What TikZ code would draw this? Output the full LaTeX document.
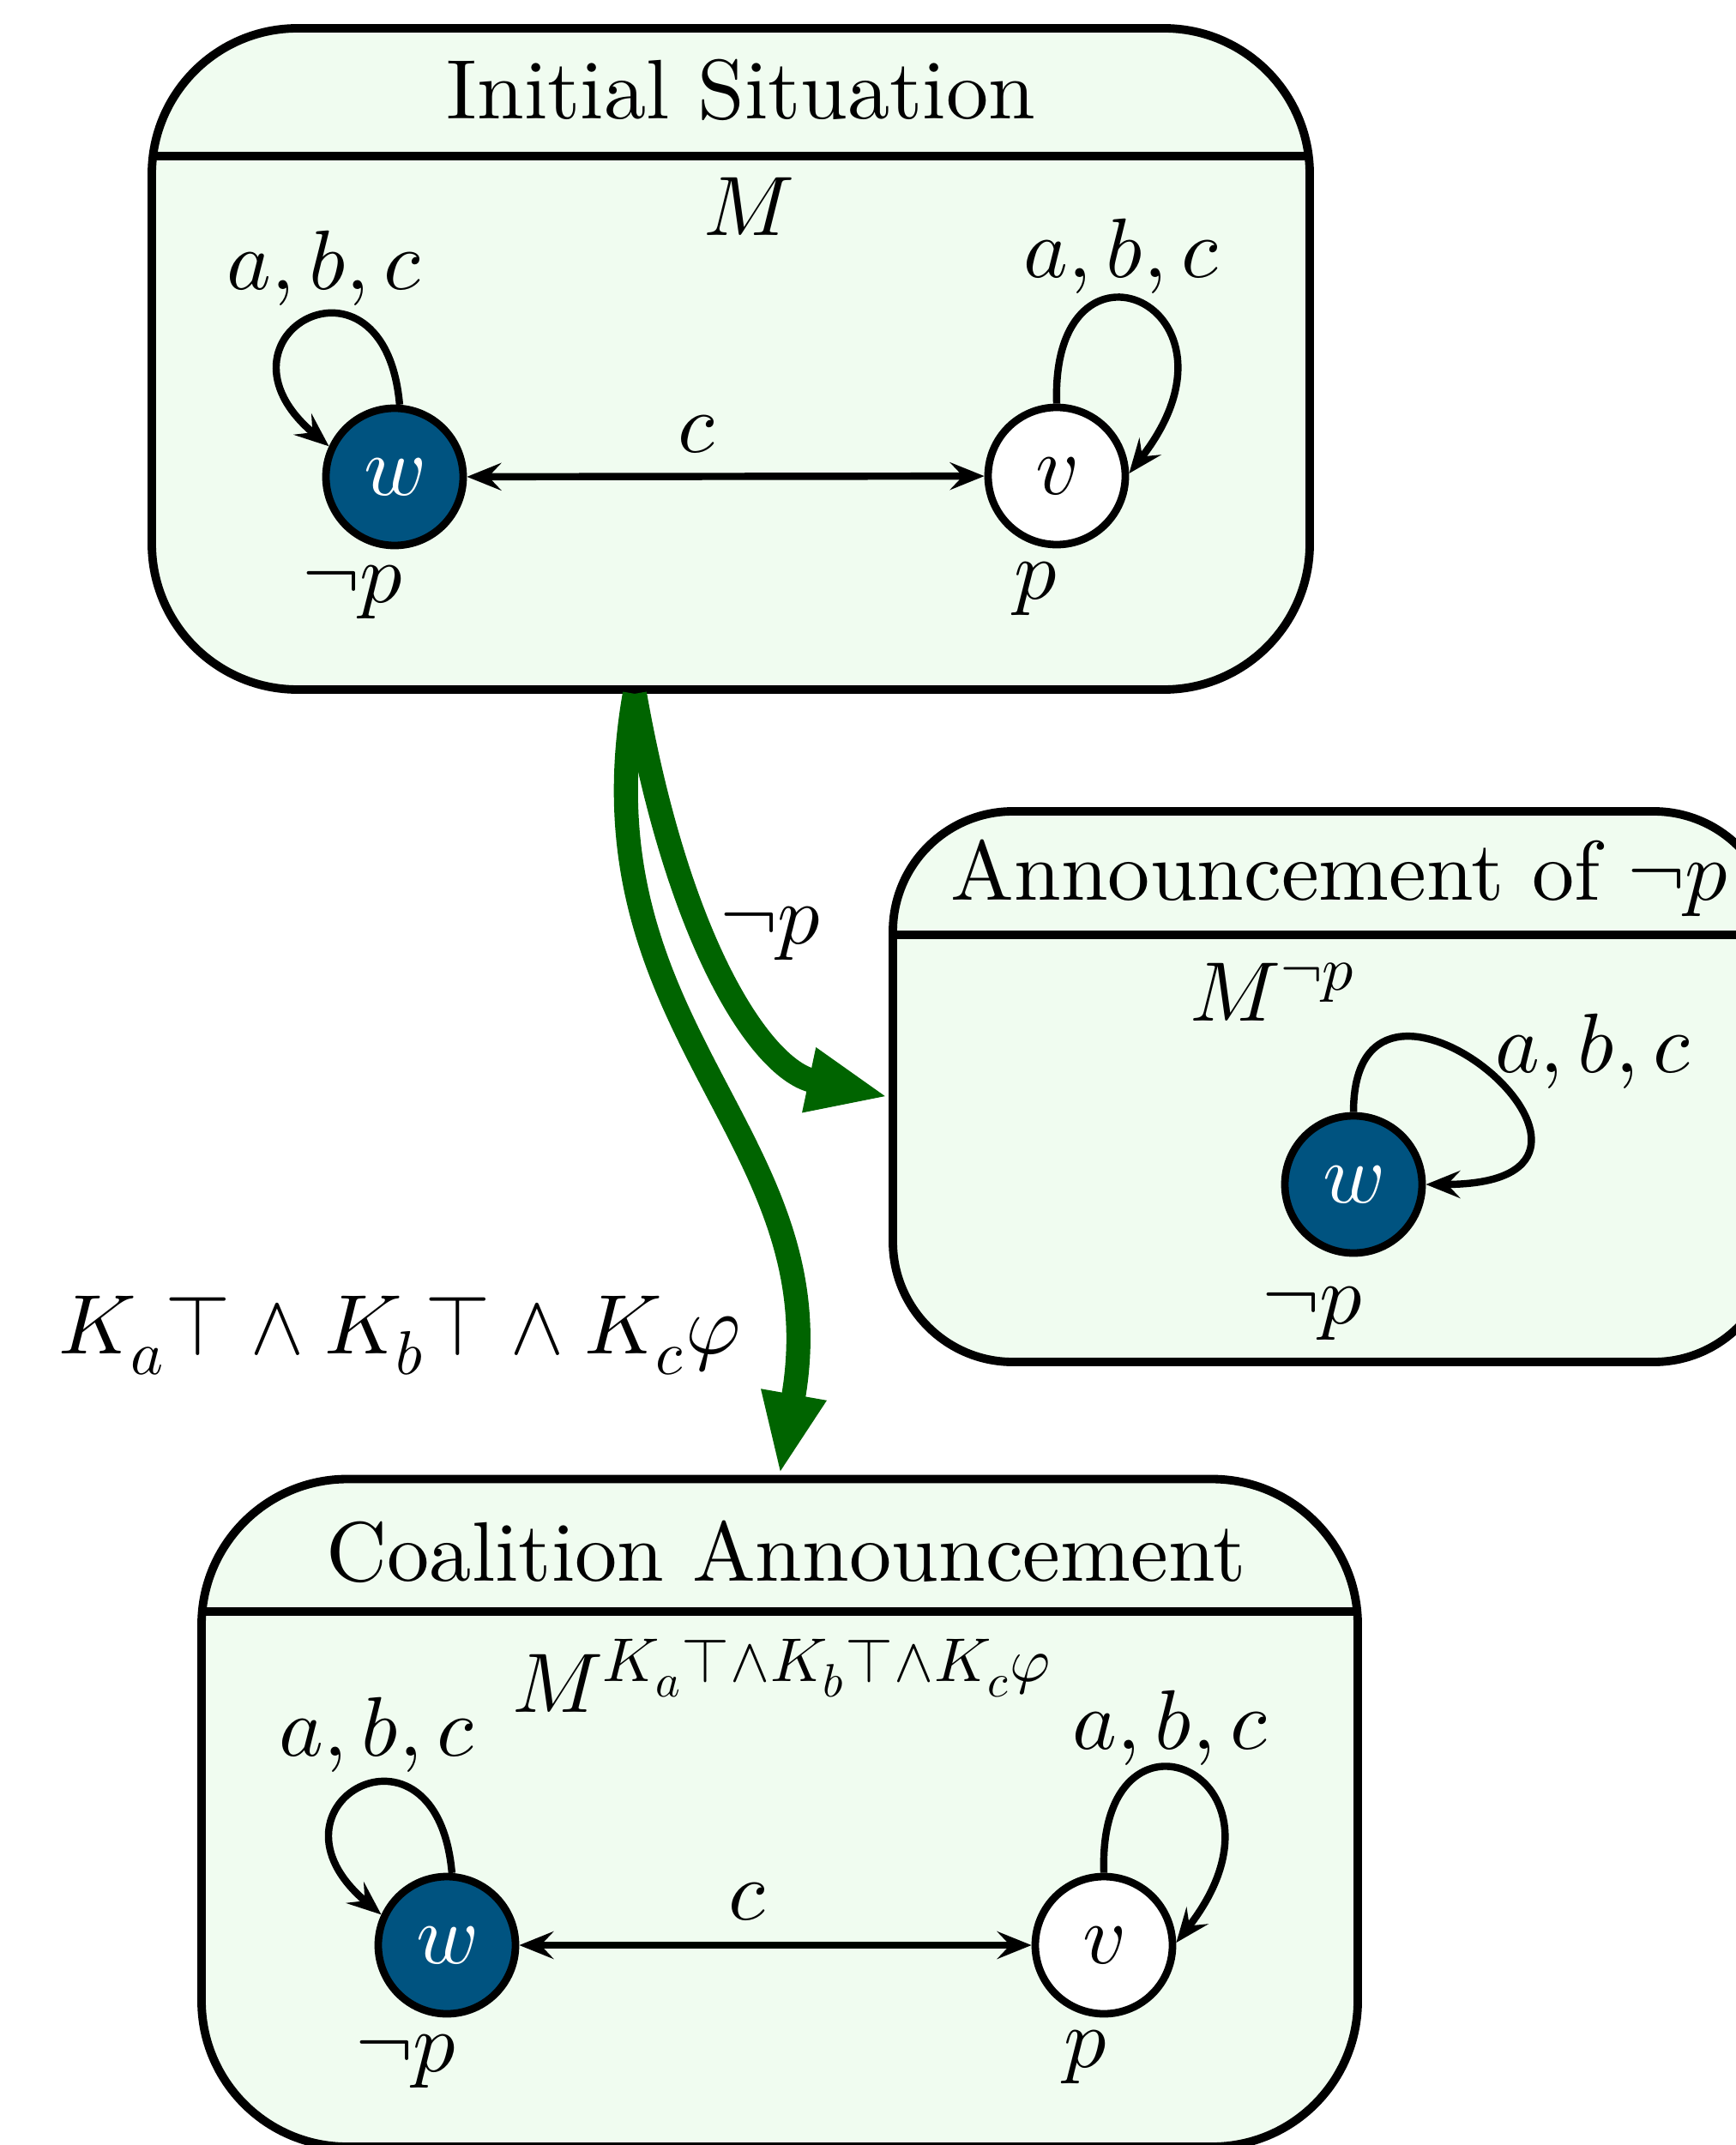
\documentclass[tikz,border=0pt]{standalone}
\usepackage{fontspec}
\usepackage{unicode-math}
\setmainfont{lmroman10-regular.otf}
\setmathfont{latinmodern-math.otf}
\DeclareMathSizes{28}{28}{20.5}{15.5}
\usetikzlibrary{arrows.meta, positioning, calc}

\definecolor{boxfill}{RGB}{240,252,240}
\definecolor{worldblue}{RGB}{0,83,128}
\definecolor{updgreen}{RGB}{0,100,0}

\begin{document}
\begin{tikzpicture}[
    font=\fontsize{28}{34}\selectfont,
    >={Stealth[length=4mm, width=3.2mm, inset=1.5mm]},
    modelbox/.style={draw, line width=2.8pt, fill=boxfill, rounded corners=1.7cm, outer sep=0pt},
    divider/.style={line width=2.8pt},
    txt/.style={anchor=base, inner sep=0pt},
    world/.style={circle, draw, line width=2.5pt, minimum size=1.6cm, inner sep=0pt},
    actual/.style={world, fill=worldblue, text=white},
    other/.style={world, fill=white},
    rel/.style={<->, line width=2.4pt},
    selfloop/.style={->, line width=2.4pt},
    upd/.style={-{Triangle[length=9.5mm, width=7mm]}, line width=8pt, draw=updgreen}
]
\useasboundingbox (0,0) rectangle (20.23,-25.01);

% Model boxes
\node[modelbox, minimum width=13.5cm, minimum height=7.71cm] (init) at (8.52,-4.185) {};
\node[modelbox, rounded corners=1.4cm, minimum width=10.27cm, minimum height=6.42cm] (ann) at (15.545,-12.67) {};
\node[modelbox, minimum width=13.48cm, minimum height=7.785cm] (coal) at (9.09,-21.1375) {};

\draw[divider] ([yshift=-1.49cm]init.north west) -- ([yshift=-1.49cm]init.north east);
\draw[divider] ([yshift=-1.44cm]ann.north west) -- ([yshift=-1.44cm]ann.north east);
\draw[divider] ([yshift=-1.545cm]coal.north west) -- ([yshift=-1.545cm]coal.north east);

% Titles and model names
\node[txt] (initTitle) at (8.64,-1.386) {Initial Situation};
\node[txt] (annTitle) at (15.62,-10.495) {Announcement of $\neg p$};
\node[txt] (coalTitle) at (9.165,-18.43) {Coalition Announcement};

\node[txt] (initM) at (8.73,-2.746) {$M$};
\node[txt] (annM) at (14.84,-11.90) {$M^{\neg p}$};
\node[txt] (coalM) at (9.12,-19.96) {$M^{K_a\top\wedge K_b\top\wedge K_c\varphi}$};

% Worlds
\node[actual] (w1) at (4.60,-5.56) {$w$};
\node[other] (v1) at (12.32,-5.55) {$v$};
\node[actual] (w2) at (15.78,-13.81) {$w$};
\node[actual] (w3) at (5.21,-22.68) {$w$};
\node[other] (v3) at (12.87,-22.68) {$v$};

% Valuations
\node[txt] (w1val) at (4.12,-7.03) {$\neg p$};
\node[txt] (v1val) at (12.08,-6.98) {$p$};
\node[txt] (w2val) at (15.31,-15.43) {$\neg p$};
\node[txt] (w3val) at (4.737,-24.15) {$\neg p$};
\node[txt] (v3val) at (12.656,-24.10) {$p$};

% Accessibility
\draw[rel] (w1) -- node[pos=0.445, above=2.3mm, inner sep=0pt] (initC) {$c$} (v1);
\draw[rel] (w3) -- node[pos=0.446, above=2.4mm, inner sep=0pt] (coalC) {$c$} (v3);

\draw[selfloop] (w1.86) .. controls +(95:2cm) and +(140:2cm) .. (w1.155);
\draw[selfloop] (v1.90) .. controls +(92:2.2cm) and +(52:2.5cm) .. (v1.2);
\draw[selfloop] (w2.90) .. controls +(90:2.4cm) and +(0:3cm) .. (w2.0);
\draw[selfloop] (w3.86) .. controls +(95:2cm) and +(140:2cm) .. (w3.155);
\draw[selfloop] (v3.90) .. controls +(92:2.2cm) and +(52:2.5cm) .. (v3.2);

\node[txt] (w1agents) at (3.785,-3.38) {$a,b,c$};
\node[txt] (v1agents) at (13.08,-3.24) {$a,b,c$};
\node[txt] (w2agents) at (18.58,-12.50) {$a,b,c$};
\node[txt] (w3agents) at (4.40,-20.47) {$a,b,c$};
\node[txt] (v3agents) at (13.65,-20.397) {$a,b,c$};

% Updates
\coordinate (src) at ([xshift=-11.2mm, yshift=-1.4pt]init.south);
\draw[upd] (src) .. controls +(-80:3cm) and +(168:1.5cm) .. ([yshift=-1.2mm, xshift=-1.4pt]ann.west);
\draw[upd] (src) .. controls +(-100:4cm) and +(80:4cm) .. ([yshift=1.4pt]coal.north);

\node[txt] (annLabel) at (8.99,-11.0) {$\neg p$};
\node[txt] (coalLabel) at (4.665,-15.78) {$K_a\top \wedge K_b\top \wedge K_c\varphi$};

\end{tikzpicture}
\end{document}
